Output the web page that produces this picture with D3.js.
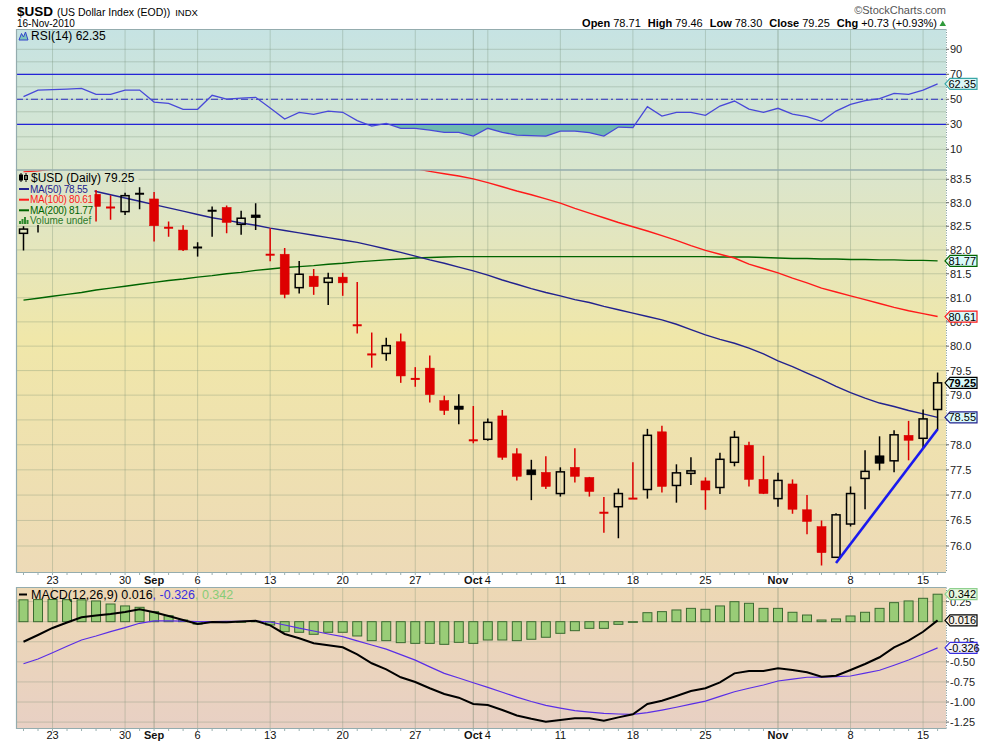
<!DOCTYPE html>
<html><head><meta charset="utf-8">
<script src="https://cdn.jsdelivr.net/npm/d3@7"></script>
<style>body{margin:0;background:#fff}svg{display:block}text{font-family:"Liberation Sans",Arial,sans-serif}</style>
</head><body><svg id="c" width="990" height="744"></svg>
<script>
// ---------------- DATA ----------------
const dates = ["2010-08-19","2010-08-20","2010-08-23","2010-08-24","2010-08-25","2010-08-26","2010-08-27","2010-08-30","2010-08-31",
"2010-09-01","2010-09-02","2010-09-03","2010-09-06","2010-09-07","2010-09-08","2010-09-09","2010-09-10","2010-09-13","2010-09-14","2010-09-15","2010-09-16","2010-09-17","2010-09-20","2010-09-21","2010-09-22","2010-09-23","2010-09-24","2010-09-27","2010-09-28","2010-09-29","2010-09-30",
"2010-10-01","2010-10-04","2010-10-05","2010-10-06","2010-10-07","2010-10-08","2010-10-11","2010-10-12","2010-10-13","2010-10-14","2010-10-15","2010-10-18","2010-10-19","2010-10-20","2010-10-21","2010-10-22","2010-10-25","2010-10-26","2010-10-27","2010-10-28","2010-10-29",
"2010-11-01","2010-11-02","2010-11-03","2010-11-04","2010-11-05","2010-11-08","2010-11-09","2010-11-10","2010-11-11","2010-11-12","2010-11-15","2010-11-16"];

const opens  = [82.35,82.62,82.98,83.18,83.08,83.18,82.91,82.81,83.18,83.08,82.48,82.42,82.04,82.82,82.90,82.54,82.74,81.91,81.91,81.21,81.45,81.32,81.43,80.44,79.84,79.85,80.09,79.34,79.55,78.89,78.78,78.10,78.11,78.58,77.82,77.50,77.45,77.03,77.55,77.35,76.66,76.77,76.94,77.11,78.26,77.19,77.43,77.28,77.15,77.65,77.99,77.31,76.93,77.22,76.71,76.38,75.78,76.43,77.33,77.78,77.68,78.19,78.13,78.71];
const highs  = [82.50,83.10,83.35,83.55,83.45,83.27,83.16,83.21,83.33,83.23,82.60,82.52,82.16,82.92,82.94,82.83,82.99,82.46,82.04,81.77,81.60,81.52,81.52,81.33,80.28,80.17,80.26,79.57,79.81,78.99,79.02,78.78,78.53,78.70,77.93,77.70,77.77,77.55,77.93,77.36,76.96,77.13,77.65,78.32,78.38,77.61,77.75,77.35,77.84,78.28,78.06,77.78,77.44,77.31,77.00,76.50,76.64,77.17,77.89,78.17,78.29,78.48,78.71,79.46];
const lows   = [81.99,82.37,82.90,83.00,82.95,82.60,82.64,82.74,82.86,82.18,82.28,81.98,81.86,82.28,82.35,82.32,82.42,81.76,80.99,81.09,81.06,80.85,81.04,80.26,79.56,79.70,79.25,79.17,78.85,78.60,78.41,78.03,78.08,77.70,77.29,76.90,77.12,76.97,77.25,76.97,76.26,76.15,76.92,76.93,77.05,76.85,77.20,76.71,77.02,77.57,77.17,77.02,76.77,76.63,76.23,75.62,75.77,76.38,76.72,77.49,77.45,77.69,77.93,78.30];
const closes = [82.44,82.98,83.18,83.08,83.25,82.92,82.90,83.15,83.19,82.51,82.47,82.00,82.05,82.83,82.58,82.67,82.68,81.90,81.07,81.49,81.23,81.41,81.31,80.43,79.83,80.01,79.39,79.33,79.01,78.69,78.71,78.09,78.45,77.75,77.37,77.40,77.17,77.46,77.37,77.07,76.65,77.03,76.93,78.19,77.17,77.44,77.48,77.10,77.71,78.15,77.31,77.03,77.29,76.72,76.48,75.87,76.61,77.03,77.47,77.63,78.20,78.09,78.52,79.25];
const prevClose0 = 82.30;

const ma50  = [83.59,83.52,83.45,83.38,83.31,83.24,83.17,83.10,83.03,82.96,82.89,82.82,82.75,82.68,82.63,82.57,82.52,82.46,82.41,82.36,82.31,82.26,82.21,82.16,82.09,82.02,81.95,81.87,81.79,81.72,81.64,81.56,81.47,81.37,81.28,81.19,81.11,81.04,80.96,80.90,80.82,80.75,80.68,80.61,80.54,80.45,80.34,80.23,80.14,80.06,79.96,79.84,79.70,79.58,79.45,79.32,79.18,79.05,78.94,78.84,78.77,78.69,78.62,78.55];
const ma100 = [83.66,83.68,83.72,83.78,83.82,83.86,83.90,83.93,83.96,83.98,84.00,84.01,84.02,84.03,84.03,84.03,84.02,84.01,84.00,83.98,83.96,83.94,83.91,83.88,83.85,83.81,83.78,83.73,83.67,83.62,83.57,83.51,83.43,83.34,83.25,83.17,83.08,82.99,82.88,82.78,82.68,82.58,82.49,82.40,82.30,82.20,82.09,81.99,81.91,81.83,81.70,81.61,81.52,81.41,81.31,81.20,81.12,81.04,80.96,80.88,80.80,80.73,80.67,80.61];
const ma200 = [80.95,80.99,81.03,81.07,81.11,81.16,81.20,81.24,81.28,81.32,81.36,81.39,81.43,81.46,81.50,81.53,81.57,81.60,81.63,81.65,81.67,81.70,81.72,81.75,81.77,81.79,81.81,81.83,81.84,81.85,81.86,81.86,81.86,81.86,81.86,81.86,81.86,81.86,81.86,81.86,81.86,81.86,81.86,81.86,81.86,81.86,81.86,81.86,81.85,81.85,81.85,81.84,81.83,81.82,81.82,81.81,81.81,81.80,81.80,81.79,81.79,81.78,81.78,81.77];

const rsi = [52.2,57.4,57.8,58.2,58.8,54.0,54.0,57.4,57.4,47.8,46.8,42.0,42.0,53.2,50.2,51.0,51.6,43.0,34.2,39.6,38.0,40.6,39.6,32.9,28.6,30.8,26.8,26.8,25.4,23.6,23.6,20.6,26.8,23.6,21.4,21.0,20.6,24.6,24.6,23.3,20.6,27.8,27.3,44.1,36.6,39.6,39.6,37.2,44.6,48.6,42.2,39.6,42.8,38.2,36.1,32.4,40.6,46.0,48.9,50.5,54.8,54.0,57.4,62.35];

const macd   = [-0.250,-0.166,-0.078,-0.010,0.055,0.077,0.096,0.121,0.154,0.117,0.071,0.021,-0.029,-0.004,-0.007,0.002,0.012,-0.045,-0.153,-0.207,-0.269,-0.294,-0.319,-0.406,-0.518,-0.593,-0.692,-0.751,-0.829,-0.900,-0.946,-1.025,-1.037,-1.100,-1.167,-1.209,-1.245,-1.224,-1.203,-1.203,-1.233,-1.191,-1.153,-1.025,-0.984,-0.925,-0.863,-0.829,-0.755,-0.643,-0.614,-0.614,-0.580,-0.601,-0.630,-0.685,-0.672,-0.601,-0.527,-0.443,-0.319,-0.237,-0.125,0.016];
const signal = [-0.523,-0.464,-0.387,-0.306,-0.228,-0.178,-0.123,-0.073,-0.020,0.009,0.009,0.006,0.001,0.002,0.004,0.005,0.006,-0.004,-0.041,-0.081,-0.116,-0.153,-0.187,-0.238,-0.290,-0.342,-0.410,-0.478,-0.562,-0.643,-0.701,-0.760,-0.817,-0.878,-0.939,-0.994,-1.041,-1.076,-1.108,-1.126,-1.141,-1.149,-1.153,-1.131,-1.100,-1.065,-1.027,-0.988,-0.929,-0.872,-0.829,-0.788,-0.738,-0.714,-0.692,-0.689,-0.685,-0.676,-0.641,-0.605,-0.543,-0.477,-0.402,-0.326];
const hist   = [0.272,0.275,0.276,0.274,0.272,0.258,0.220,0.196,0.179,0.125,0.075,0.021,-0.030,-0.006,-0.011,-0.003,0.006,-0.041,-0.124,-0.132,-0.157,-0.132,-0.132,-0.178,-0.236,-0.236,-0.261,-0.270,-0.270,-0.282,-0.257,-0.270,-0.228,-0.228,-0.236,-0.219,-0.194,-0.145,-0.112,-0.083,-0.083,-0.033,-0.008,0.112,0.125,0.146,0.166,0.154,0.196,0.249,0.229,0.166,0.166,0.117,0.083,0.021,0.034,0.071,0.117,0.166,0.237,0.258,0.291,0.342];

const trendDates = ["2010-11-05","2010-11-16"];
const trendValues = [75.67, 78.31];

const priceTicks = [76.0,76.5,77.0,77.5,78.0,78.5,79.0,79.5,80.0,80.5,81.0,81.5,82.0,82.5,83.0,83.5];
const rsiTicks = [10,30,50,70,90];
const rsiGrid = [10,20,30,40,50,60,70,80,90];
const macdTicks = [0.25,0,-0.25,-0.5,-0.75,-1.0,-1.25];
const xTickDates = ["2010-08-23","2010-08-30","2010-09-01","2010-09-06","2010-09-13","2010-09-20","2010-09-27","2010-10-01","2010-10-04","2010-10-11","2010-10-18","2010-10-25","2010-11-01","2010-11-08","2010-11-15"];
const xTickLabels = ["23","30","Sep","6","13","20","27","Oct","4","11","18","25","Nov","8","15"];
const monthDates = ["2010-09-01","2010-10-01","2010-11-01"];

// ---------------- LAYOUT ----------------
const svg = d3.select("#c");
const L = 16, R = 946;
const P = {rsi:{t:29.5,b:170}, main:{t:170,b:572.5}, macd:{t:587.5,b:728.5}};
const x  = d3.scalePoint().domain(dates).range([23.5, 937.6]);
const yP = d3.scaleLog().domain([76, 83.5]).range([546, 179.3]);
const yR = d3.scaleLinear().domain([30, 70]).range([124.3, 74.3]);
const yM = d3.scaleLinear().domain([0.25, -1.25]).range([601.6, 722.1]);

const defs = svg.append("defs");
function grad(id, y1, y2, stops){
  const g = defs.append("linearGradient").attr("id", id).attr("gradientUnits","userSpaceOnUse")
    .attr("x1",0).attr("x2",0).attr("y1",y1).attr("y2",y2);
  stops.forEach(([o,c]) => g.append("stop").attr("offset",o).attr("stop-color",c));
}
grad("gR", P.rsi.t, P.rsi.b, [[0,"#c6e3e3"],[1,"#d9e6cd"]]);
grad("gM", P.main.t, P.main.b, [[0,"#dae5cd"],[0.42,"#f0e7a9"],[1,"#eddab7"]]);
grad("gD", P.macd.t, P.macd.b, [[0,"#edd8b4"],[1,"#e8d0c4"]]);
Object.entries(P).forEach(([k,p]) => {
  defs.append("clipPath").attr("id","clip-"+k).append("rect")
    .attr("x",L).attr("y",p.t).attr("width",R-L).attr("height",p.b-p.t);
});
defs.append("clipPath").attr("id","clip-below30").append("rect")
  .attr("x",L).attr("y",yR(30)).attr("width",R-L).attr("height",P.rsi.b-yR(30));

// backgrounds
[["rsi","gR"],["main","gM"],["macd","gD"]].forEach(([k,g]) => {
  svg.append("rect").attr("x",L).attr("y",P[k].t).attr("width",R-L).attr("height",P[k].b-P[k].t).attr("fill",`url(#${g})`);
});

// gridlines
const gridColor = "rgba(110,135,110,0.30)";
const gridG = svg.append("g");
const vDates = Array.from(new Set(xTickDates.concat(monthDates)));
Object.values(P).forEach(p => {
  vDates.forEach(d => {
    gridG.append("line").attr("x1",x(d)).attr("x2",x(d)).attr("y1",p.t).attr("y2",p.b)
      .attr("stroke", monthDates.includes(d) ? "rgba(100,125,100,0.45)" : gridColor).attr("stroke-width",1);
  });
});
priceTicks.forEach(v => gridG.append("line").attr("x1",L).attr("x2",R).attr("y1",yP(v)).attr("y2",yP(v)).attr("stroke",gridColor));
rsiGrid.forEach(v => gridG.append("line").attr("x1",L).attr("x2",R).attr("y1",yR(v)).attr("y2",yR(v)).attr("stroke",gridColor));
macdTicks.forEach(v => gridG.append("line").attr("x1",L).attr("x2",R).attr("y1",yM(v)).attr("y2",yM(v)).attr("stroke",gridColor));

// ---------------- RSI ----------------
const rsiG = svg.append("g").attr("clip-path","url(#clip-rsi)");
const rsiPts = dates.map((d,i)=>({d, v:rsi[i]}));
rsiG.append("path").datum(rsiPts).attr("clip-path","url(#clip-below30)")
  .attr("d", d3.area().x(p=>x(p.d)).y0(yR(30)).y1(p=>yR(p.v)))
  .attr("fill","#6fb9b1");
[70,30].forEach(v => rsiG.append("line").attr("x1",L).attr("x2",R).attr("y1",yR(v)).attr("y2",yR(v)).attr("stroke","#2424d8").attr("stroke-width",1.2));
rsiG.append("line").attr("x1",L).attr("x2",R).attr("y1",yR(50)).attr("y2",yR(50)).attr("stroke","#2a2ac0").attr("stroke-width",1.1).attr("stroke-dasharray","7,3,2,3");
rsiG.append("path").datum(rsiPts).attr("d", d3.line().x(p=>x(p.d)).y(p=>yR(p.v)))
  .attr("fill","none").attr("stroke","#4848d8").attr("stroke-width",1.3);

// ---------------- MAIN ----------------
const mainG = svg.append("g").attr("clip-path","url(#clip-main)");
const maLine = d3.line().x(p=>x(p.d)).y(p=>yP(p.v));
[[ma200,"#006400"],[ma100,"#ff1a1a"],[ma50,"#22228e"]].forEach(([arr,c]) => {
  mainG.append("path").datum(dates.map((d,i)=>({d, v:arr[i]}))).attr("d", maLine)
    .attr("fill","none").attr("stroke",c).attr("stroke-width",1.4);
});
const bw = 9;
dates.forEach((d,i) => {
  const o=opens[i], h=highs[i], l=lows[i], c=closes[i];
  const pc = i===0 ? prevClose0 : closes[i-1];
  const col = c >= pc ? "#000000" : "#dd0000";
  const cx = x(d);
  const yTop = yP(Math.max(o,c)), yBot = yP(Math.min(o,c));
  const g = mainG.append("g");
  if (yBot - yTop < 1.6) {
    g.append("line").attr("x1",cx).attr("x2",cx).attr("y1",yP(h)).attr("y2",yP(l)).attr("stroke",col).attr("stroke-width",1.5);
    g.append("line").attr("x1",cx-bw/2).attr("x2",cx+bw/2).attr("y1",yP(c)).attr("y2",yP(c)).attr("stroke",col).attr("stroke-width",2);
  } else if (c > o) {
    g.append("line").attr("x1",cx).attr("x2",cx).attr("y1",yP(h)).attr("y2",yTop).attr("stroke",col).attr("stroke-width",1.5);
    g.append("line").attr("x1",cx).attr("x2",cx).attr("y1",yBot).attr("y2",yP(l)).attr("stroke",col).attr("stroke-width",1.5);
    g.append("rect").attr("x",cx-bw/2+0.5).attr("y",yTop).attr("width",bw-1).attr("height",yBot-yTop)
      .attr("fill","none").attr("stroke",col).attr("stroke-width",1.5);
  } else {
    g.append("line").attr("x1",cx).attr("x2",cx).attr("y1",yP(h)).attr("y2",yP(l)).attr("stroke",col).attr("stroke-width",1.5);
    g.append("rect").attr("x",cx-bw/2).attr("y",yTop).attr("width",bw).attr("height",yBot-yTop)
      .attr("fill",col).attr("stroke",col).attr("stroke-width",0.5);
  }
});
mainG.append("path").datum(trendDates.map((d,i)=>({d, v:trendValues[i]}))).attr("d", maLine)
  .attr("fill","none").attr("stroke","#1a1aee").attr("stroke-width",2.6);

// legend background (opaque, same gradient)
svg.append("rect").attr("x",L+0.5).attr("y",172.5).attr("width",122).attr("height",10.5).attr("fill","url(#gM)");
svg.append("rect").attr("x",L+0.5).attr("y",182).attr("width",78).attr("height",43).attr("fill","url(#gM)");

// ---------------- MACD ----------------
const macdG = svg.append("g").attr("clip-path","url(#clip-macd)");
dates.forEach((d,i) => {
  const v = hist[i];
  macdG.append("rect").attr("x",x(d)-4.5).attr("width",9)
    .attr("y", Math.min(yM(0),yM(v))).attr("height", Math.max(0.6, Math.abs(yM(v)-yM(0))))
    .attr("fill","#99cc77").attr("stroke","#3a6a30").attr("stroke-width",1);
});
macdG.append("path").datum(dates.map((d,i)=>({d,v:signal[i]}))).attr("d", d3.line().x(p=>x(p.d)).y(p=>yM(p.v)))
  .attr("fill","none").attr("stroke","#5a2ee6").attr("stroke-width",1.2);
macdG.append("path").datum(dates.map((d,i)=>({d,v:macd[i]}))).attr("d", d3.line().x(p=>x(p.d)).y(p=>yM(p.v)))
  .attr("fill","none").attr("stroke","#000").attr("stroke-width",2);

// ---------------- FRAMES & AXES ----------------
Object.values(P).forEach(p => {
  svg.append("path").attr("d",`M${R},${p.t}H${L+0.5}V${p.b}H${R}`).attr("fill","none").attr("stroke","#94acae").attr("stroke-width",1.2);
  svg.append("line").attr("x1",R+0.5).attr("x2",R+0.5).attr("y1",p.t).attr("y2",p.b).attr("stroke","#7f9a9c").attr("stroke-width",1).attr("stroke-dasharray","1,1.5");
});
// day ticks
[P.main.b, P.macd.b].forEach(yb => {
  dates.forEach(d => svg.append("line").attr("x1",x(d)).attr("x2",x(d)).attr("y1",yb).attr("y2",yb+2.5).attr("stroke","#9ab0b0"));
});
// x labels
[584, 739].forEach(yb => {
  xTickDates.forEach((d,i) => {
    const lab = xTickLabels[i];
    svg.append("text").attr("x",x(d)).attr("y",yb).attr("text-anchor","middle")
      .attr("font-size",11).attr("font-weight", /[A-Za-z]/.test(lab) ? "bold" : "normal").attr("fill","#111").text(lab);
  });
});
const last = dates.length-1;
const tagPos = [yR(rsi[last]), yP(ma200[last]), yP(ma100[last]), yP(closes[last]), yP(ma50[last]), yM(hist[last]), yM(macd[last]), yM(signal[last])];
function yLabels(ticks, scale, fmt){
  ticks.forEach(v => {
    const yy = scale(v);
    svg.append("line").attr("x1",R).attr("x2",R+3).attr("y1",yy).attr("y2",yy).attr("stroke","#666");
    if (tagPos.some(t => Math.abs(t-yy) < 4)) return; // fully hidden under a value tag
    svg.append("text").attr("x",950).attr("y",yy).attr("dy","0.36em").attr("font-size",11).attr("fill","#222").text(fmt(v));
  });
}
yLabels(rsiTicks, yR, v => String(v));
yLabels(priceTicks, yP, v => v.toFixed(1));
yLabels(macdTicks, yM, v => v.toFixed(2));

function tag(y, txt, stroke, fill, bold){
  svg.append("path").attr("d",`M945,${y}L950,${y-5.5}H977V${y+5.5}H950Z`).attr("fill",fill).attr("stroke",stroke).attr("stroke-width",1.2);
  svg.append("text").attr("x",948.5).attr("y",y).attr("dy","0.36em").attr("font-size",11)
    .attr("font-weight", bold?"bold":"normal").attr("fill","#000").text(txt);
}
tag(yR(rsi[last]), rsi[last].toFixed(2), "#3aa7a7", "#dcf6f6", false);
tag(yP(ma200[last]), ma200[last].toFixed(2), "#006400", "#d9fafa", false);
tag(yP(ma100[last]), ma100[last].toFixed(2), "#ff1a1a", "#d9fafa", false);
tag(yP(closes[last]), closes[last].toFixed(2), "#000", "#d9fafa", true);
tag(yP(ma50[last]), ma50[last].toFixed(2), "#22228e", "#d9fafa", false);
tag(yM(hist[last]), hist[last].toFixed(3), "#8fd08f", "#e6f7de", false);
tag(yM(macd[last]), macd[last].toFixed(3), "#000", "#f7f2ea", false);
tag(yM(signal[last]), signal[last].toFixed(3), "#3a2ee0", "#f2f0fa", false);

// ---------------- LEGENDS ----------------
// RSI
svg.append("path").attr("d","M19,40L21.5,33.5L23.5,37L25.5,32L28,40Z").attr("fill","#7cc4bc").attr("stroke","#3344cc").attr("stroke-width",1);
svg.append("text").attr("x",31).attr("y",40).attr("font-size",12).attr("fill","#000").text("RSI(14) " + rsi[last].toFixed(2));
// main
const ic = svg.append("g").attr("stroke","#000").attr("stroke-width",1);
ic.append("line").attr("x1",21).attr("x2",21).attr("y1",173).attr("y2",182);
ic.append("rect").attr("x",19.5).attr("y",175).attr("width",3).attr("height",5).attr("fill","#000");
ic.append("line").attr("x1",26).attr("x2",26).attr("y1",173).attr("y2",182);
ic.append("rect").attr("x",24.5).attr("y",175.5).attr("width",3).attr("height",4).attr("fill","none");
svg.append("text").attr("x",31).attr("y",181.5).attr("font-size",12).attr("fill","#000").text("$USD (Daily) " + closes[last].toFixed(2));
const maLeg = [["MA(50) ", ma50[last], "#22228e", 192.5], ["MA(100) ", ma100[last], "#ff1a1a", 203.2], ["MA(200) ", ma200[last], "#006400", 213.8]];
maLeg.forEach(([lab,v,c,yb]) => {
  svg.append("line").attr("x1",19).attr("x2",29).attr("y1",yb-3.5).attr("y2",yb-3.5).attr("stroke",c).attr("stroke-width",2);
  svg.append("text").attr("x",30).attr("y",yb).attr("font-size",10).attr("letter-spacing",-0.25).attr("fill",c).text(lab + v.toFixed(2));
});
[[19,3],[21.5,5],[24,7],[26.5,4]].forEach(([bx,bh]) => svg.append("rect").attr("x",bx).attr("y",224-bh).attr("width",2).attr("height",bh).attr("fill","#2f8a2f"));
svg.append("text").attr("x",30).attr("y",224.3).attr("font-size",10).attr("fill","#2a7a2a").text("Volume undef");
// MACD
svg.append("line").attr("x1",19).attr("x2",27).attr("y1",594.5).attr("y2",594.5).attr("stroke","#000").attr("stroke-width",2);
const mt = svg.append("text").attr("x",31).attr("y",598.5).attr("font-size",12.5).attr("fill","#000");
mt.append("tspan").text("MACD(12,26,9) " + macd[last].toFixed(3));
mt.append("tspan").attr("fill","#3a2ee0").text(", " + signal[last].toFixed(3));
mt.append("tspan").attr("fill","#88cc77").text(", " + hist[last].toFixed(3));

// ---------------- HEADER ----------------
const t1 = svg.append("text").attr("x",17).attr("y",15.5).attr("fill","#000");
t1.append("tspan").attr("font-size",13.5).attr("font-weight","bold").text("$USD");
t1.append("tspan").attr("font-size",10.5).attr("dx",4).text("(US Dollar Index (EOD))");
t1.append("tspan").attr("font-size",9.5).attr("dx",5).text("INDX");
svg.append("text").attr("x",17).attr("y",27).attr("font-size",10).attr("fill","#000").text("16-Nov-2010");
svg.append("text").attr("x",946).attr("y",14).attr("text-anchor","end").attr("font-size",11).attr("fill","#555").text("\u00A9StockCharts.com");
const hdr = svg.append("text").attr("x",937).attr("y",27).attr("text-anchor","end").attr("font-size",11).attr("fill","#000");
const chg = closes[last]-closes[last-1];
[["Open",opens[last].toFixed(2)],["High",highs[last].toFixed(2)],["Low",lows[last].toFixed(2)],["Close",closes[last].toFixed(2)],
 ["Chg", "+" + chg.toFixed(2) + " (+" + (chg/closes[last-1]*100).toFixed(2) + "%)"]].forEach(([k,v],i) => {
  hdr.append("tspan").attr("font-weight","bold").attr("dx", i===0?0:7).text(k);
  hdr.append("tspan").attr("dx",3).text(v);
});
svg.append("path").attr("d","M939.5,26L946,26L942.75,20.5Z").attr("fill","#2f9a3a");
</script></body></html>
